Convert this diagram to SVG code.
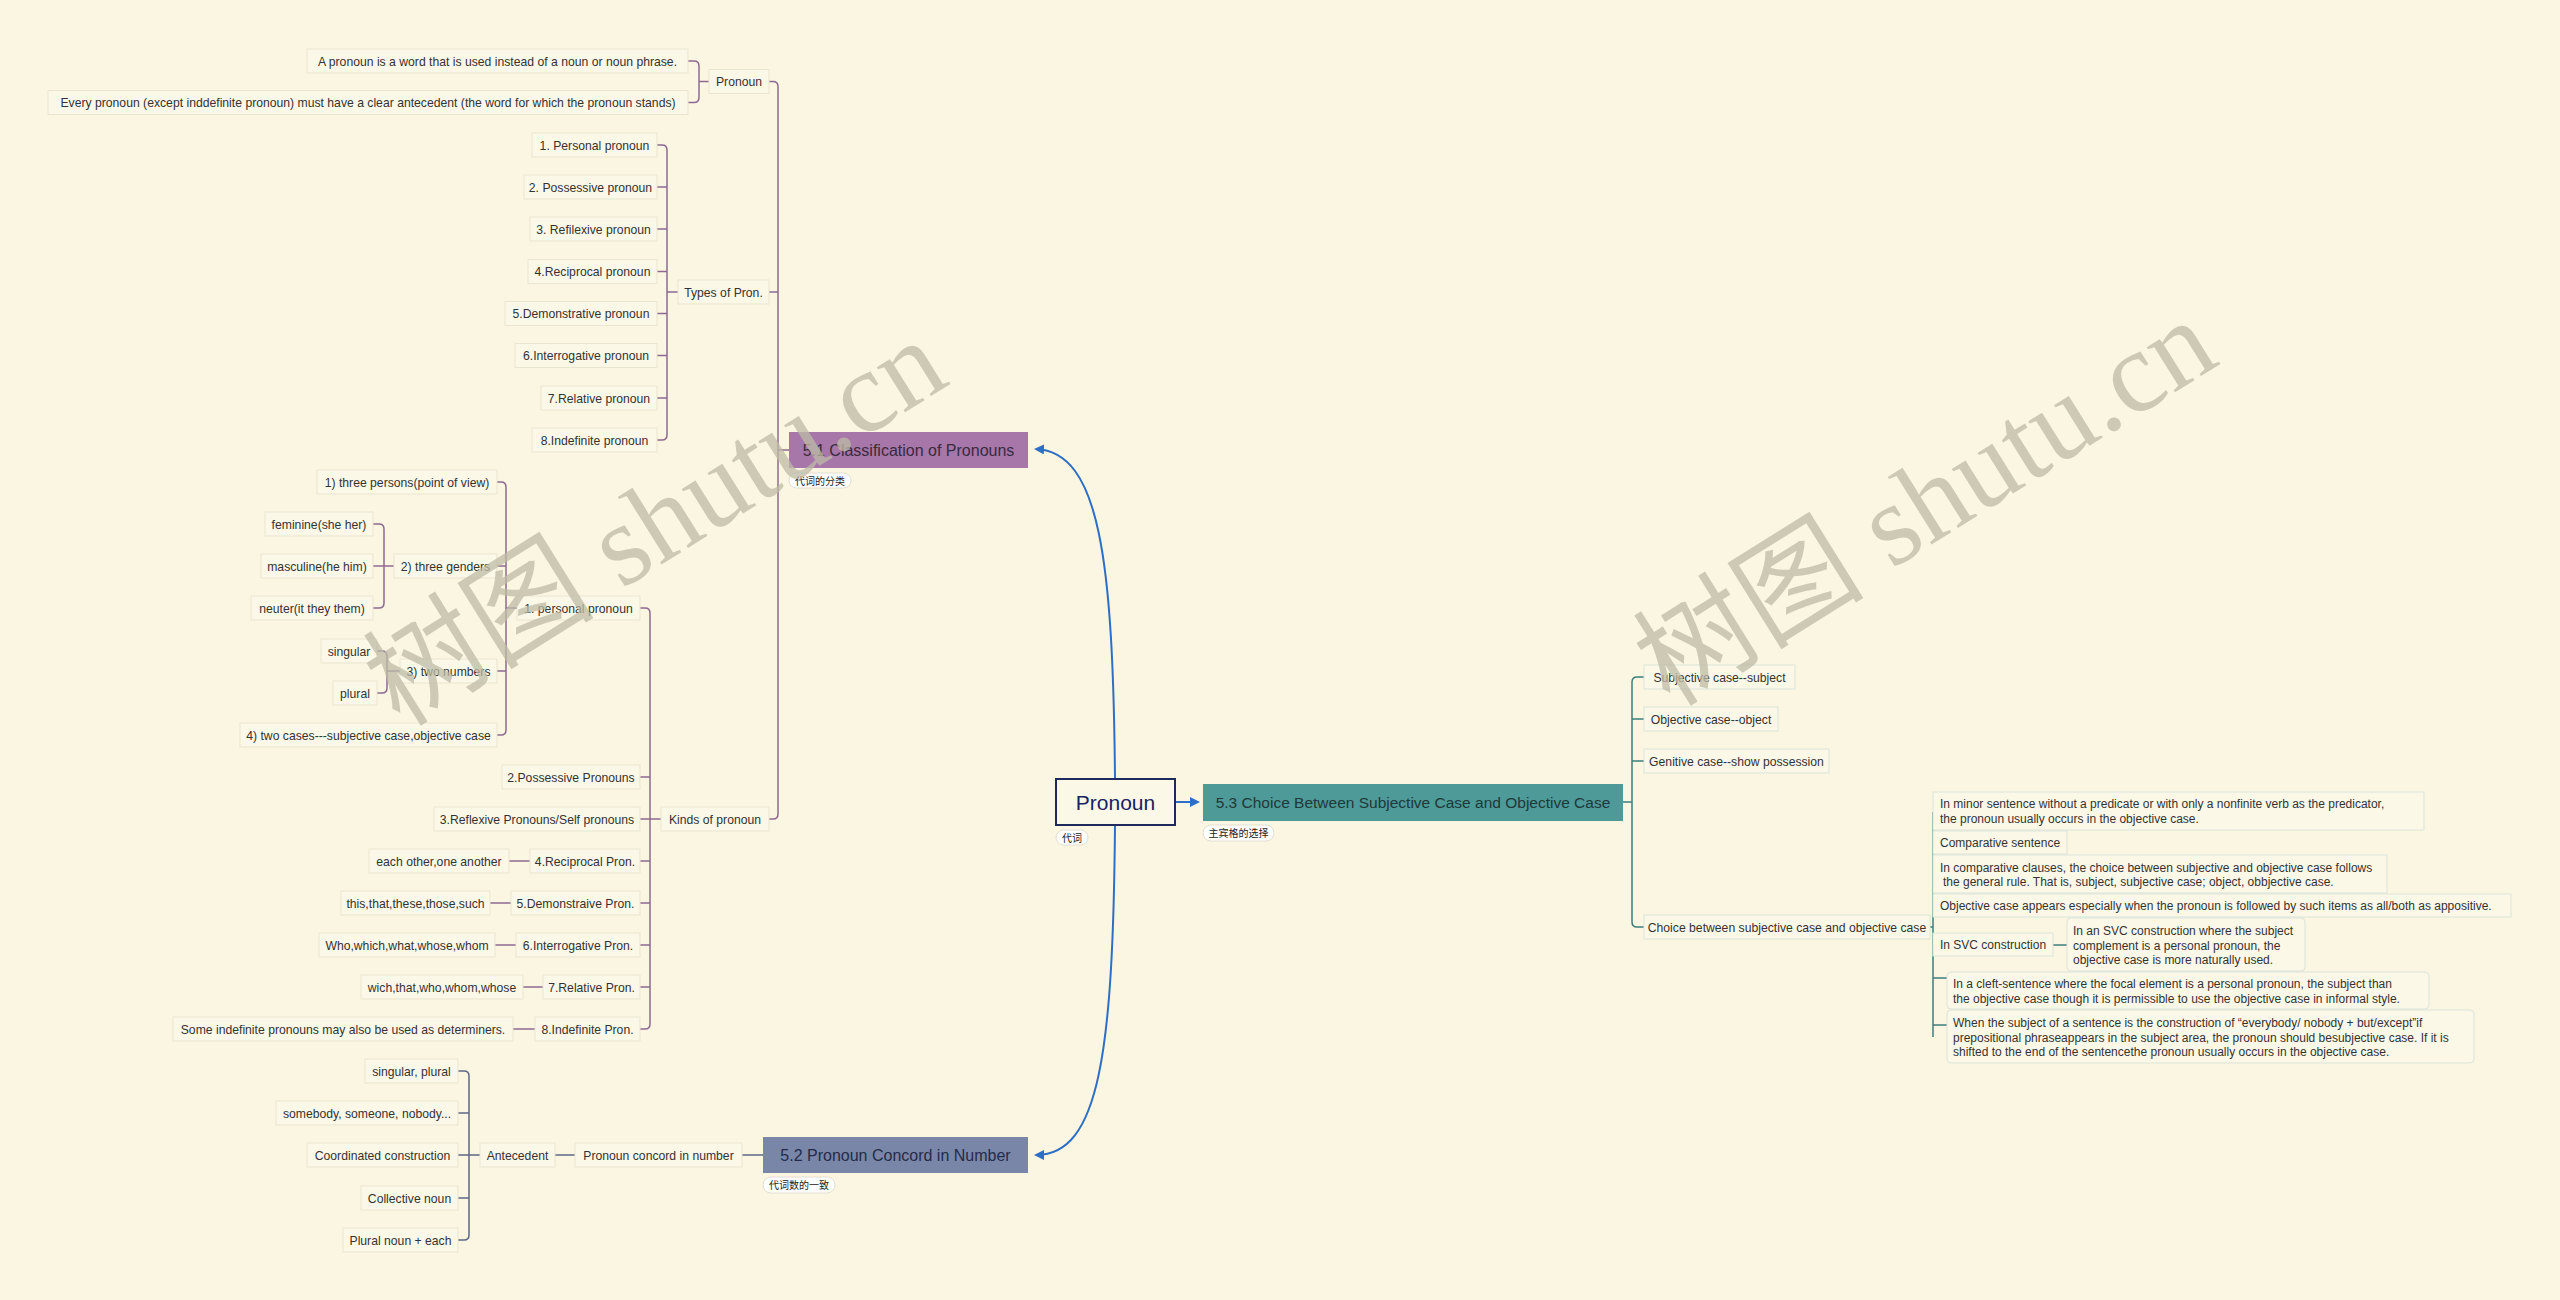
<svg xmlns="http://www.w3.org/2000/svg" width="2560" height="1300" viewBox="0 0 2560 1300">
<defs>
<style>
.leaf{fill:#FCF8E8;stroke:#EAE5D0;stroke-width:1}
.leafr{fill:#FCF8E8;stroke:#DCE3DA;stroke-width:1}
.t{font-family:"Liberation Sans",Arial,sans-serif;font-size:12.2px;fill:#333333}
.tm{text-anchor:middle}
.ts{font-family:"Liberation Sans",Arial,sans-serif;font-size:12px;fill:#333333}
.main{font-family:"Liberation Sans",Arial,sans-serif;font-size:16px;text-anchor:middle}
.pill{fill:#FFFFFF;stroke:#E2DED0;stroke-width:1}
.pt{font-family:"Noto Sans CJK SC",sans-serif;font-size:10px;fill:#222222}
.c1{fill:none;stroke:#8E6A93;stroke-width:1.5}
.c2{fill:none;stroke:#5F6787;stroke-width:1.5}
.c3{fill:none;stroke:#3D7F7D;stroke-width:1.5}
.arr{fill:none;stroke:#2D6FC7;stroke-width:2}
.wm{font-family:"Liberation Serif","Noto Sans CJK SC",serif;font-size:116px;fill:#BEBBA6;opacity:0.75}
</style>
<marker id="ah" viewBox="0 0 10 10" refX="8" refY="5" markerWidth="5" markerHeight="5" orient="auto-start-reverse">
<path d="M0,0 L10,5 L0,10 z" fill="#2D6FC7"/>
</marker>
</defs>
<rect x="0" y="0" width="2560" height="1300" fill="#FBF6E1"/>

<g id="connectors">
<path class="arr" d="M1115,779 C1113,560 1100,452 1036,449" marker-end="url(#ah)"/>
<path class="arr" d="M1115,825 C1113,1050 1100,1155 1036,1155" marker-end="url(#ah)"/>
<path class="arr" d="M1175,802 L1198,802" marker-end="url(#ah)"/>
<path class="c1" d="M769,81.5 H773 Q778,81.5 778,86.5 V814 Q778,819 773,819 H769 M778,292 H769 M778,450 H789"/>
<path class="c1" d="M688,61 H694 Q699,61 699,66 V97.5 Q699,102.5 694,102.5 H688 M699,81.5 H709"/>
<path class="c1" d="M657,145 H662 Q667,145 667,150 V435 Q667,440 662,440 H657 M667,187 H657 M667,229 H657 M667,271.5 H657 M667,313.5 H657 M667,355.5 H657 M667,398 H657 M667,292 H678"/>
<path class="c1" d="M640,608 H645 Q650,608 650,613 V1024 Q650,1029 645,1029 H640 M650,777 H640 M650,819 H640 M650,861 H640 M650,903 H640 M650,945 H640 M650,987 H640 M650,819 H661"/>
<path class="c1" d="M497,482 H501 Q506,482 506,487 V730 Q506,735 501,735 H497 M506,566 H497 M506,671 H497 M506,608 H517"/>
<path class="c1" d="M373,524 H379 Q384,524 384,529 V603 Q384,608 379,608 H373 M384,566 H373 M384,566 H394"/>
<path class="c1" d="M377,651 H382 Q387,651 387,656 V688 Q387,693 382,693 H377 M387,671 H400"/>
<path class="c1" d="M509,861 H530 M490,903 H511 M495,945 H516 M523,987 H543 M513,1029 H535"/>
<path class="c2" d="M742,1155 H763 M555,1155 H575 M458,1071 H464 Q469,1071 469,1076 V1235 Q469,1240 464,1240 H458 M469,1113 H458 M469,1155 H480 M469,1198 H458 M458,1155 H469"/>
<path class="c3" d="M1623,802 H1632 M1644,677 H1637 Q1632,677 1632,682 V922 Q1632,927 1637,927 H1644 M1632,719 H1644 M1632,761 H1644"/>
<path class="c3" d="M1930,927 H1933 M1933,812 V1037 M1933,978 H1947 M1933,1025 H1947 M2053,945 H2067"/>
</g>

<g id="n-root">
<rect x="1056" y="779" width="119" height="46" fill="#FCF8E8" stroke="#1F2A5C" stroke-width="2"/>
<text x="1115.5" y="809.5" font-family="Liberation Sans,Arial,sans-serif" font-size="21" fill="#1A2260" text-anchor="middle">Pronoun</text>
<rect class="pill" x="1056" y="830" width="32" height="15" rx="7.5"/>
<text class="pt" x="1072" y="841.5" text-anchor="middle">代词</text>
</g>

<g id="n-51">
<rect x="789" y="432" width="239" height="36" fill="#A677A8"/>
<text class="main" x="908.5" y="455.5" fill="#3A2A3E">5.1 Classification of Pronouns</text>
<rect class="pill" x="789" y="473" width="62" height="15" rx="7.5"/>
<text class="pt" x="820" y="484.5" text-anchor="middle">代词的分类</text>
</g>

<g id="n-52">
<rect x="763" y="1137" width="265" height="36" fill="#7A86A8"/>
<text class="main" x="895.5" y="1160.5" fill="#252B4A">5.2 Pronoun Concord in Number</text>
<rect class="pill" x="763" y="1177" width="72" height="16" rx="8"/>
<text class="pt" x="799" y="1189" text-anchor="middle">代词数的一致</text>
</g>

<g id="n-53">
<rect x="1203" y="784" width="420" height="37" fill="#4E9A98"/>
<text class="main" x="1413" y="808" fill="#1F3838" style="font-size:15.5px">5.3 Choice Between Subjective Case and Objective Case</text>
<rect class="pill" x="1203" y="825" width="71" height="16" rx="8"/>
<text class="pt" x="1238.5" y="837" text-anchor="middle">主宾格的选择</text>
</g>

<g id="n-def1"><rect class="leaf" x="307" y="49" width="381" height="24"/><text class="t tm" x="497.5" y="65.5">A pronoun is a word that is used instead of a noun or noun phrase.</text></g>
<g id="n-def2"><rect class="leaf" x="48" y="90.5" width="640" height="24"/><text class="t tm" x="368" y="107">Every pronoun (except inddefinite pronoun) must have a clear antecedent (the word for which the pronoun stands)</text></g>
<g id="n-pronoun"><rect class="leaf" x="709" y="69.5" width="60" height="24"/><text class="t tm" x="739" y="86">Pronoun</text></g>
<g id="n-types"><rect class="leaf" x="678" y="280" width="91" height="24"/><text class="t tm" x="723.5" y="296.5">Types of Pron.</text></g>
<g id="n-t1"><rect class="leaf" x="532" y="133" width="125" height="24"/><text class="t tm" x="594.5" y="149.5">1. Personal pronoun</text></g>
<g id="n-t2"><rect class="leaf" x="524" y="175" width="133" height="24"/><text class="t tm" x="590.5" y="191.5">2. Possessive pronoun</text></g>
<g id="n-t3"><rect class="leaf" x="530" y="217" width="127" height="24"/><text class="t tm" x="593.5" y="233.5">3. Refilexive pronoun</text></g>
<g id="n-t4"><rect class="leaf" x="528" y="259.5" width="129" height="24"/><text class="t tm" x="592.5" y="276">4.Reciprocal pronoun</text></g>
<g id="n-t5"><rect class="leaf" x="505" y="301.5" width="152" height="24"/><text class="t tm" x="581" y="318">5.Demonstrative pronoun</text></g>
<g id="n-t6"><rect class="leaf" x="515" y="343.5" width="142" height="24"/><text class="t tm" x="586" y="360">6.Interrogative pronoun</text></g>
<g id="n-t7"><rect class="leaf" x="541" y="386" width="116" height="24"/><text class="t tm" x="599" y="402.5">7.Relative pronoun</text></g>
<g id="n-t8"><rect class="leaf" x="532" y="428" width="125" height="24"/><text class="t tm" x="594.5" y="444.5">8.Indefinite pronoun</text></g>

<g id="n-kinds"><rect class="leaf" x="661" y="807" width="108" height="24"/><text class="t tm" x="715" y="823.5">Kinds of pronoun</text></g>
<g id="n-k1"><rect class="leaf" x="517" y="596" width="123" height="24"/><text class="t tm" x="578.5" y="612.5">1. personal pronoun</text></g>
<g id="n-p1"><rect class="leaf" x="317" y="470" width="180" height="24"/><text class="t tm" x="407" y="486.5">1) three persons(point of view)</text></g>
<g id="n-p2"><rect class="leaf" x="394" y="554" width="103" height="24"/><text class="t tm" x="445.5" y="570.5">2) three genders</text></g>
<g id="n-g1"><rect class="leaf" x="265" y="512" width="108" height="24"/><text class="t tm" x="319" y="528.5">feminine(she her)</text></g>
<g id="n-g2"><rect class="leaf" x="261" y="554" width="112" height="24"/><text class="t tm" x="317" y="570.5">masculine(he him)</text></g>
<g id="n-g3"><rect class="leaf" x="251" y="596" width="122" height="24"/><text class="t tm" x="312" y="612.5">neuter(it they them)</text></g>
<g id="n-p3"><rect class="leaf" x="400" y="659" width="97" height="24"/><text class="t tm" x="448.5" y="675.5">3) two numbers</text></g>
<g id="n-s1"><rect class="leaf" x="321" y="639" width="56" height="24"/><text class="t tm" x="349" y="655.5">singular</text></g>
<g id="n-s2"><rect class="leaf" x="333" y="681" width="44" height="24"/><text class="t tm" x="355" y="697.5">plural</text></g>
<g id="n-p4"><rect class="leaf" x="240" y="723" width="257" height="24"/><text class="t tm" x="368.5" y="739.5">4) two cases---subjective case,objective case</text></g>
<g id="n-k2"><rect class="leaf" x="502" y="765" width="138" height="24"/><text class="t tm" x="571" y="781.5">2.Possessive Pronouns</text></g>
<g id="n-k3"><rect class="leaf" x="434" y="807" width="206" height="24"/><text class="t tm" x="537" y="823.5">3.Reflexive Pronouns/Self pronouns</text></g>
<g id="n-k4"><rect class="leaf" x="530" y="849" width="110" height="24"/><text class="t tm" x="585" y="865.5">4.Reciprocal Pron.</text></g>
<g id="n-e4"><rect class="leaf" x="369" y="849" width="140" height="24"/><text class="t tm" x="439" y="865.5">each other,one another</text></g>
<g id="n-k5"><rect class="leaf" x="511" y="891" width="129" height="24"/><text class="t tm" x="575.5" y="907.5">5.Demonstraive Pron.</text></g>
<g id="n-e5"><rect class="leaf" x="341" y="891" width="149" height="24"/><text class="t tm" x="415.5" y="907.5">this,that,these,those,such</text></g>
<g id="n-k6"><rect class="leaf" x="516" y="933" width="124" height="24"/><text class="t tm" x="578" y="949.5">6.Interrogative Pron.</text></g>
<g id="n-e6"><rect class="leaf" x="319" y="933" width="176" height="24"/><text class="t tm" x="407" y="949.5">Who,which,what,whose,whom</text></g>
<g id="n-k7"><rect class="leaf" x="543" y="975" width="97" height="24"/><text class="t tm" x="591.5" y="991.5">7.Relative Pron.</text></g>
<g id="n-e7"><rect class="leaf" x="361" y="975" width="162" height="24"/><text class="t tm" x="442" y="991.5">wich,that,who,whom,whose</text></g>
<g id="n-k8"><rect class="leaf" x="535" y="1017" width="105" height="24"/><text class="t tm" x="587.5" y="1033.5">8.Indefinite Pron.</text></g>
<g id="n-e8"><rect class="leaf" x="173" y="1017" width="340" height="24"/><text class="t tm" x="343" y="1033.5">Some indefinite pronouns may also be used as determiners.</text></g>

<g id="n-c1"><rect class="leaf" x="575" y="1143" width="167" height="24"/><text class="t tm" x="658.5" y="1159.5">Pronoun concord in number</text></g>
<g id="n-ant"><rect class="leaf" x="480" y="1143" width="75" height="24"/><text class="t tm" x="517.5" y="1159.5">Antecedent</text></g>
<g id="n-a1"><rect class="leaf" x="365" y="1059" width="93" height="24"/><text class="t tm" x="411.5" y="1075.5">singular, plural</text></g>
<g id="n-a2"><rect class="leaf" x="276" y="1101" width="182" height="24"/><text class="t tm" x="367" y="1117.5">somebody, someone, nobody...</text></g>
<g id="n-a3"><rect class="leaf" x="307" y="1143" width="151" height="24"/><text class="t tm" x="382.5" y="1159.5">Coordinated construction</text></g>
<g id="n-a4"><rect class="leaf" x="361" y="1186" width="97" height="24"/><text class="t tm" x="409.5" y="1202.5">Collective noun</text></g>
<g id="n-a5"><rect class="leaf" x="343" y="1228" width="115" height="24"/><text class="t tm" x="400.5" y="1244.5">Plural noun + each</text></g>

<g id="n-r1"><rect class="leafr" x="1644" y="665" width="151" height="24"/><text class="t tm" x="1719.5" y="681.5">Subjective case--subject</text></g>
<g id="n-r2"><rect class="leafr" x="1644" y="707" width="134" height="24"/><text class="t tm" x="1711" y="723.5">Objective case--object</text></g>
<g id="n-r3"><rect class="leafr" x="1644" y="749" width="185" height="24"/><text class="t tm" x="1736.5" y="765.5">Genitive case--show possession</text></g>
<g id="n-r4"><rect class="leafr" x="1644" y="915" width="286" height="24"/><text class="t tm" x="1787" y="931.5">Choice between subjective case and objective case</text></g>
<g id="n-d1"><rect class="leafr" x="1933" y="792" width="491" height="38"/><text class="ts" x="1940" y="808">In minor sentence without a predicate or with only a nonfinite verb as the predicator,</text><text class="ts" x="1940" y="823">the pronoun usually occurs in the objective case.</text></g>
<g id="n-d2"><rect class="leafr" x="1933" y="831" width="134" height="23"/><text class="ts" x="1940" y="847">Comparative sentence</text></g>
<g id="n-d3"><rect class="leafr" x="1933" y="855" width="454" height="38"/><text class="ts" x="1940" y="872">In comparative clauses, the choice between subjective and objective case follows</text><text class="ts" x="1943" y="886">the general rule. That is, subject, subjective case; object, obbjective case.</text></g>
<g id="n-d4"><rect class="leafr" x="1933" y="894" width="578" height="23"/><text class="ts" x="1940" y="910">Objective case appears especially when the pronoun is followed by such items as all/both as appositive.</text></g>
<g id="n-d5"><rect class="leafr" x="1933" y="933" width="120" height="23"/><text class="ts" x="1940" y="949">In SVC construction</text></g>
<g id="n-d6"><rect class="leafr" x="2067" y="918" width="238" height="53" rx="4"/><text class="ts" x="2073" y="935">In an SVC construction where the subject</text><text class="ts" x="2073" y="949.5">complement is a personal pronoun, the</text><text class="ts" x="2073" y="964">objective case is more naturally used.</text></g>
<g id="n-d7"><rect class="leafr" x="1947" y="972" width="482" height="37" rx="4"/><text class="ts" x="1953" y="988">In a cleft-sentence where the focal element is a personal pronoun, the subject than</text><text class="ts" x="1953" y="1003">the objective case though it is permissible to use the objective case in informal style.</text></g>
<g id="n-d8"><rect class="leafr" x="1947" y="1010" width="527" height="53" rx="4"/><text class="ts" x="1953" y="1027">When the subject of a sentence is the construction of  “everybody/ nobody + but/except”if</text><text class="ts" x="1953" y="1041.5">prepositional phraseappears in the subject area, the pronoun should besubjective case. If it is</text><text class="ts" x="1953" y="1056">shifted to the end of the sentencethe pronoun usually occurs in the objective case.</text></g>

<text class="wm" transform="translate(400,728) rotate(-32)">树图 shutu.cn</text>
<text class="wm" transform="translate(1670,708) rotate(-32)">树图 shutu.cn</text>
</svg>
